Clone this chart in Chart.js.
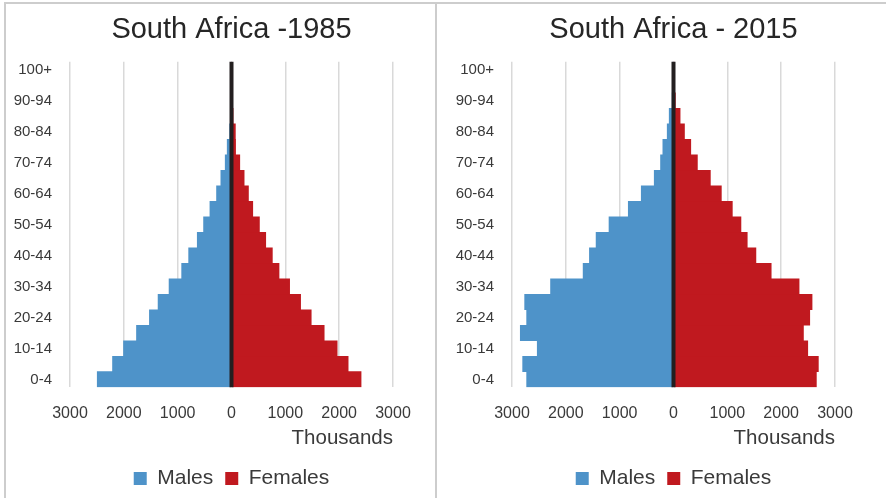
<!DOCTYPE html>
<html>
<head>
<meta charset="utf-8">
<script src="https://cdn.jsdelivr.net/npm/chart.js@4.4.1/dist/chart.umd.min.js"></script>
<style>
  html, body { margin: 0; padding: 0; background: #fff; }
  #wrap { position: relative; width: 886px; height: 498px; overflow: hidden; }
  #frame { position: absolute; left: 4px; top: 2px; width: 900px; height: 494px;
           border-left: 2px solid #cdcdcd; border-top: 2px solid #cdcdcd; border-bottom: 1px solid #e6e6e6; }
  #sep { position: absolute; left: 435px; top: 2px; width: 2px; height: 498px; background: #cdcdcd; }
  #c1 { position: absolute; left: 0; top: 0; }
  #c2 { position: absolute; left: 437px; top: 0; }
</style>
</head>
<body>
<div id="wrap">
  <div id="frame"></div>
  <div id="sep"></div>
  <canvas id="c1" width="435" height="498"></canvas>
  <canvas id="c2" width="449" height="498"></canvas>
</div>
<script>
// age groups, bottom to top
const ageGroups = ['0-4', '5-9', '10-14', '15-19', '20-24', '25-29', '30-34', '35-39', '40-44', '45-49',
  '50-54', '55-59', '60-64', '65-69', '70-74', '75-79', '80-84', '85-89', '90-94', '95-99', '100+'];

// thousands of people
const males1985 = [2494, 2210, 2006, 1765, 1525, 1364, 1160, 926, 796, 636, 519, 401, 278, 198, 117, 80, 35, 15, 5, 1, 0];
const females1985 = [2407, 2167, 1963, 1722, 1481, 1284, 1080, 883, 759, 636, 519, 395, 315, 235, 154, 76, 72, 30, 8, 2, 0];
const males2015 = [2728, 2802, 2531, 2846, 2728, 2765, 2284, 1679, 1562, 1438, 1198, 840, 599, 358, 241, 198, 117, 80, 25, 5, 1];
const females2015 = [2654, 2691, 2494, 2414, 2531, 2574, 2333, 1815, 1531, 1370, 1253, 1093, 889, 685, 444, 321, 204, 123, 35, 8, 1];

const FONT = "'Liberation Sans', Arial, sans-serif";
const TEXT = '#3a3a3a';

// black axis line at 0, drawn over the bars
const zeroLine = {
  id: 'zeroLine',
  afterDatasetsDraw(chart) {
    const { ctx, chartArea, scales } = chart;
    const x = scales.x.getPixelForValue(0);
    ctx.save();
    ctx.strokeStyle = '#231f20';
    ctx.lineWidth = 4;
    ctx.beginPath();
    ctx.moveTo(x, chartArea.top);
    ctx.lineTo(x, chartArea.bottom);
    ctx.stroke();
    ctx.restore();
  }
};

// title and legend are not fullSize, so they centre on the plot area
function pyramid(id, titleText, males, females, axisWidth, padRight) {
  return new Chart(document.getElementById(id), {
    type: 'bar',
    data: {
      labels: ageGroups,
      datasets: [
        { label: 'Males', data: males.map(v => -v), backgroundColor: '#4e93c9',
          barPercentage: 1, categoryPercentage: 1, borderWidth: 0 },
        { label: 'Females', data: females, backgroundColor: '#c0191f',
          barPercentage: 1, categoryPercentage: 1, borderWidth: 0 }
      ]
    },
    options: {
      indexAxis: 'y',
      responsive: false,
      animation: false,
      layout: { padding: { left: 0, right: padRight, top: 0, bottom: -1 } },
      scales: {
        x: {
          stacked: true,
          min: -3000,
          max: 3000,
          ticks: { stepSize: 1000, padding: 16.5, color: TEXT, font: { family: FONT, size: 16 },
                   callback: v => Math.abs(v) },
          grid: { color: ctx => ctx.tick && ctx.tick.value === 0 ? 'rgba(0,0,0,0)' : '#d9d9d9',
                  lineWidth: 1.5, drawTicks: false },
          border: { display: false },
          title: { display: true, text: 'Thousands', align: 'end', color: TEXT,
                   font: { family: FONT, size: 20.5 }, padding: { top: -13, bottom: 5 } }
        },
        y: {
          stacked: true,
          reverse: true,
          ticks: { autoSkip: false, padding: 18, color: TEXT, font: { family: FONT, size: 15 },
                   callback: (v, i) => i % 2 === 0 ? ageGroups[i] : '' },
          grid: { display: false, drawTicks: false },
          border: { display: false },
          afterFit: scale => { scale.width = axisWidth; }
        }
      },
      plugins: {
        title: { display: true, fullSize: false, text: titleText, color: '#262626',
                 font: { family: FONT, size: 29, weight: 'normal' }, padding: { top: 13, bottom: 14 } },
        legend: { position: 'bottom', fullSize: false,
                  labels: { boxWidth: 13, boxHeight: 13, color: TEXT, padding: 12,
                            font: { family: FONT, size: 21 } } },
        tooltip: { enabled: false }
      }
    },
    plugins: [zeroLine]
  });
}

pyramid('c1', 'South Africa -1985', males1985, females1985, 70, 42);
pyramid('c2', 'South Africa - 2015', males2015, females2015, 75, 51);
</script>
</body>
</html>
